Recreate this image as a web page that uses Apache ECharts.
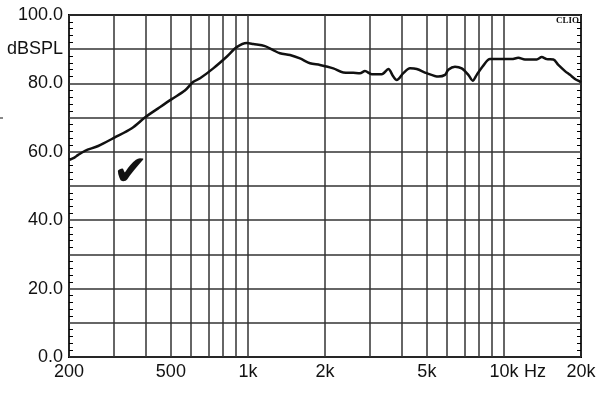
<!DOCTYPE html>
<html><head><meta charset="utf-8">
<script src="https://cdn.jsdelivr.net/npm/echarts@6/dist/echarts.min.js"></script>
<style>html,body{margin:0;padding:0;background:#fff}#c{width:612px;height:395px}</style>
</head><body><div id="c"></div>
<script>
var freqs = [200,210,217,231,260,302,352,397,446,504,567,612,650,732,826,904,990,1050,1166,1250,1334,1460,1597,1748,1911,2155,2358,2580,2740,2866,3044,3331,3535,3698,3811,4046,4296,4564,4992,5542,5886,6062,6438,6840,7258,7552,7828,8306,8824,9944,10724,11380,12084,13428,14046,14690,15594,16310,17320,18114,18950,19820,20000];
var spl = [57.6,58.3,59.1,60.3,61.7,64.2,66.9,70.1,72.7,75.4,77.9,80.5,81.5,84.4,87.8,90.6,91.8,91.5,90.9,89.8,88.8,88.3,87.3,85.9,85.4,84.4,83.2,83.1,83.0,83.6,82.7,82.7,84.2,82.0,81.0,83.0,84.4,84.2,83.0,82.0,82.5,84.0,84.9,84.4,82.5,80.8,82.5,85.2,87.1,87.1,87.1,87.5,87.0,87.0,87.7,87.1,87.0,85.4,83.6,82.5,81.3,80.5,80.3];
var gridFreqs = [200,300,400,500,600,700,800,900,1000,2000,3000,4000,5000,6000,7000,8000,9000,10000,20000];
var labelFreqs = [200,500,1000,2000,5000,10000,20000];
var xLabelText = {200:'200',500:'500',1000:'1k',2000:'2k',5000:'5k',10000:'10k',20000:'20k'};
var yLabelText = {0:'0.0',20:'20.0',40:'40.0',60:'60.0',80:'80.0',90:'dBSPL',100:'100.0'};

var data = freqs.map(function(f,i){return [f, spl[i]];});
var chart = echarts.init(document.getElementById('c'), null, {renderer:'canvas'});
var font = '"Liberation Sans", Arial, sans-serif';
chart.setOption({
  animation:false,
  grid:{left:69,right:31,top:15,bottom:38,show:true,borderColor:'#000',borderWidth:2,backgroundColor:'transparent'},
  xAxis:{type:'log',logBase:10,min:200,max:20000,
    axisLine:{show:false},
    axisTick:{show:false,customValues:gridFreqs},
    splitLine:{show:true,lineStyle:{color:'#333',width:1.5}},
    minorSplitLine:{show:false},
    axisLabel:{customValues:labelFreqs,margin:6,fontFamily:font,fontSize:18,color:'#111',
      formatter:function(v){return xLabelText[Math.round(v)]||'';}}
  },
  yAxis:[{type:'value',min:0,max:100,interval:10,
    axisLine:{show:false},axisTick:{show:false,inside:true},
    minorTick:{show:true,splitNumber:5,length:4,lineStyle:{color:'#000',width:1}},
    splitLine:{show:true,lineStyle:{color:'#333',width:1.5}},
    axisLabel:{margin:6,fontFamily:font,fontSize:18,color:'#111',
      formatter:function(v){return yLabelText[Math.round(v)]||'';}}
  },{type:'value',min:0,max:100,interval:10,position:'right',
    axisLine:{show:false},axisTick:{show:false,inside:true},axisLabel:{show:false},splitLine:{show:false},
    minorTick:{show:true,splitNumber:5,length:4,lineStyle:{color:'#000',width:1}}
  }],
  series:[{type:'line',data:data,showSymbol:false,smooth:0.3,
    lineStyle:{color:'#111',width:2.5},z:5}],
  graphic:[
    {type:'text',left:524,top:363,style:{text:'Hz',font:'18px '+font,fill:'#111'}},
    {type:'text',left:556,top:16,style:{text:'CLIO',font:'bold 9px "Liberation Serif", serif',fill:'#111'}},
    {type:'text',left:113,top:153,style:{text:'\u2714',font:'42px "DejaVu Sans"',fill:'#111'}},
    {type:'rect',shape:{x:0,y:117.5,width:3,height:1},style:{fill:'#111'}}
  ]
});
</script></body></html>
